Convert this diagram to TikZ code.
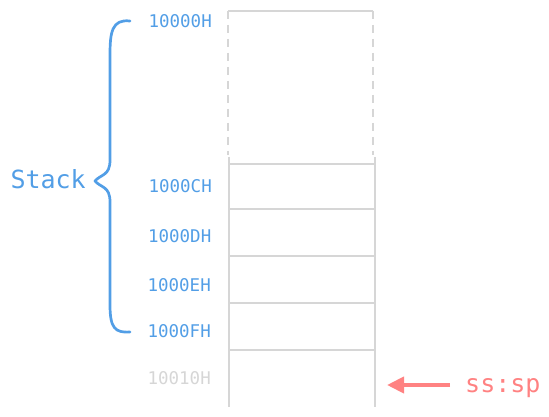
\documentclass[tikz,border=0pt]{standalone}
\usepackage{fontspec}
\setmonofont{DejaVu Sans Mono}
\usetikzlibrary{arrows.meta,calc,positioning}
\definecolor{addrblue}{RGB}{82,158,230}
\definecolor{cellgray}{RGB}{214,214,214}
\definecolor{ptrred}{RGB}{255,130,130}

\begin{document}
\begin{tikzpicture}[x=1pt,y=-1pt,
    addr/.style={anchor=east,inner sep=0pt,text=addrblue,font=\ttfamily\fontsize{17.5}{20}\selectfont},
    cell/.style={draw=cellgray,line width=2.6pt},
    gap/.style={cell,dash pattern=on 8pt off 6pt},
    bigtext/.style={inner sep=0pt,font=\ttfamily\fontsize{25}{28}\selectfont}]
  \useasboundingbox (0,0) rectangle (549,417);
  \def\xl{229}
  \def\xr{375}
  % free part on top
  \draw[cell] (228,11) -- (373,11);
  \draw[gap] (228,11) -- (228,155);
  \draw[gap] (373,11) -- (373,155);
  % used cells
  \draw[cell] (\xl,157) -- (\xl,407);
  \draw[cell] (\xr,157) -- (\xr,407);
  \foreach \y in {164,209,256,303,350}
    \draw[cell] (\xl,\y) -- (\xr,\y);

  \node[addr] (a0) at (212,21.5) {10000H};
  \node[addr] (aC) at (212,186.5) {1000CH};
  \node[addr] (aD) at (211.5,236.5) {1000DH};
  \node[addr] (aE) at (211,285) {1000EH};
  \node[addr] (aF) at (211,331.5) {1000FH};
  \node[addr,text=cellgray] (a10) at (211,378.5) {10010H};

  % the brace
  \coordinate (btop) at (130,21);
  \coordinate (bbot) at (130,332);
  \draw[addrblue,line width=2.7pt,line cap=round,line join=round]
    (btop) .. controls (112,19) and (110,32) .. (110,55) -- (110,160)
    .. controls (110,176) and (101,174) .. (95,181)
    .. controls (101,188) and (110,186) .. (110,202) -- (110,305)
    .. controls (110,328) and (115,333) .. (bbot);
  \node[bigtext,text=addrblue,anchor=base east] (stack) at (86,188) {Stack};

  % stack pointer
  \node[bigtext,text=ptrred,anchor=base west] (sp) at (465,392) {ss:sp};
  \coordinate (sptip) at (387,385);
  \draw[ptrred,line width=4pt,-{Triangle[length=17pt,width=16pt]}]
    (450,385) coordinate (sptail) -- (sptip);
\end{tikzpicture}
\end{document}
